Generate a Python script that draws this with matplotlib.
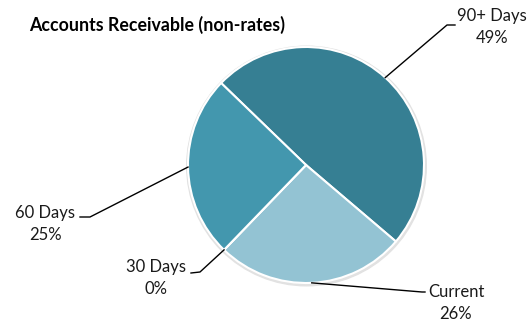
import matplotlib.pyplot as plt
from matplotlib.patches import Circle
import numpy as np

# Daten: Anteile der offenen Forderungen
labels = ['90+ Days', 'Current', '30 Days', '60 Days']
values = [49, 26, 0, 25]
pct_labels = ['49%', '26%', '0%', '25%']
colors = ['#367F93', '#93C3D3', '#4397AE', '#4397AE']

W, H = 529, 326
cx, cy, R = 306, H - 165, 118

# Position der Beschriftungen (Pixel, y von oben) und Knickpunkte der Linien
text_pos = [(492, 27), (456, 303), (156, 278), (45, 224)]
elbow = [(447, 25), (422, 292), (200, 272), (90, 217)]
line_end = [(455, 25), (425, 292), (191, 273), (80, 217)]

plt.rcParams['font.family'] = ['Lato', 'DejaVu Sans']

fig = plt.figure(figsize=(W / 100, H / 100), dpi=100)
ax = fig.add_axes([0, 0, 1, 1])

# leichter Schatten
ax.add_patch(Circle((cx + 0.5, cy - 1), R + 1.8, color='#e2e2e2', zorder=0))

wedges, _ = ax.pie(values, colors=colors, startangle=136, counterclock=False,
                   center=(cx, cy), radius=R, frame=True,
                   wedgeprops=dict(edgecolor='white', linewidth=1.5))
ax.set_xlim(0, W)
ax.set_ylim(0, H)
ax.set_aspect('equal')
ax.axis('off')

for w, lab, pct, tp, el, le in zip(wedges, labels, pct_labels, text_pos, elbow, line_end):
    ang = np.deg2rad((w.theta1 + w.theta2) / 2)
    x0 = cx + R * np.cos(ang)
    y0 = cy + R * np.sin(ang)
    ax.plot([x0, el[0], le[0]], [y0, H - el[1], H - le[1]], color='black', lw=1.0, zorder=3)
    ax.text(tp[0], H - tp[1], lab + '\n' + pct, ha='center', va='center',
            fontsize=12, linespacing=1.45, color='#1a1a1a')

ax.text(29, H - 25, 'Accounts Receivable (non-rates)', ha='left', va='center',
        fontsize=12.8, fontweight='bold', color='black')

plt.savefig('out.png', dpi=100)
